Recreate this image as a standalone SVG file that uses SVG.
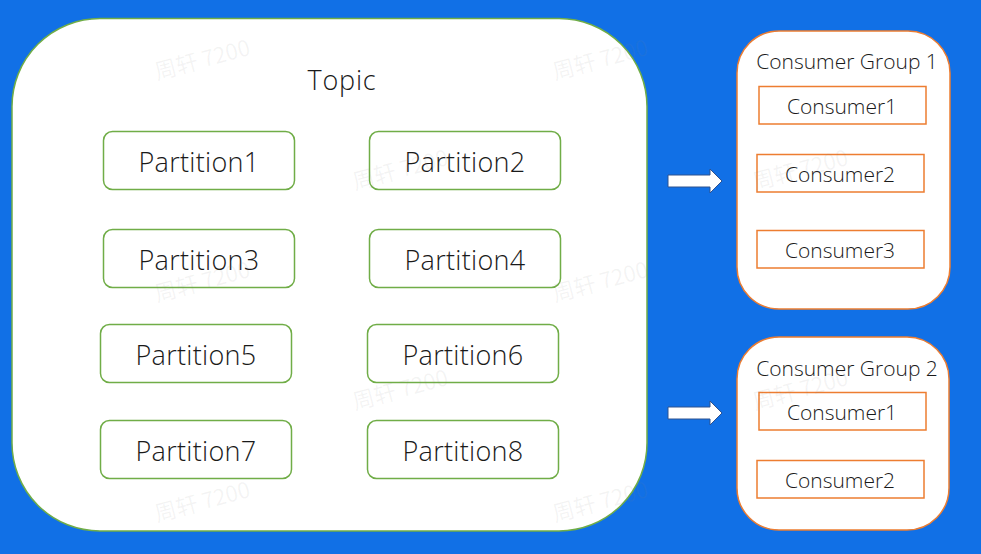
<svg xmlns="http://www.w3.org/2000/svg" width="981" height="554" viewBox="0 0 981 554">
<style>
.bg{fill:#1170E6}
.topic{fill:#fff;stroke:#70AD47;stroke-width:1.5}
.part{fill:#fff;stroke:#70AD47;stroke-width:1.5}
.grp{fill:#fff;stroke:#ED7D31;stroke-width:1.5}
.cons{fill:#fff;stroke:#ED7D31;stroke-width:1.5}
text{font-family:"Open Sans","Noto Sans CJK SC",sans-serif;font-weight:300;fill:#1a1a1a}
.pt{font-size:27px;text-anchor:middle;letter-spacing:0.3px}
.tt{font-size:27px;text-anchor:middle;letter-spacing:0.8px}
.gt{font-size:21px;text-anchor:middle}
.ct{font-size:21px;text-anchor:middle}
.wm{font-family:"Noto Sans CJK SC",sans-serif;font-size:22px;fill:#808080;fill-opacity:0.09;font-weight:400}
.arr{fill:#fff;stroke:#2F528F;stroke-width:1}
</style>
<rect class="bg" x="0" y="0" width="981" height="554"/>
<g id="topic">
<rect class="topic" x="12" y="18.5" width="635" height="512.5" rx="88"/>
<text class="tt" x="342" y="90">Topic</text>
</g>
<g id="partition1"><rect class="part" x="103.5" y="131.5" width="191" height="58" rx="9"/><text class="pt" x="199" y="172">Partition1</text></g>
<g id="partition2"><rect class="part" x="369.5" y="131.5" width="191" height="58" rx="9"/><text class="pt" x="465" y="172">Partition2</text></g>
<g id="partition3"><rect class="part" x="103.5" y="229.5" width="191" height="58" rx="9"/><text class="pt" x="199" y="270">Partition3</text></g>
<g id="partition4"><rect class="part" x="369.5" y="229.5" width="191" height="58" rx="9"/><text class="pt" x="465" y="270">Partition4</text></g>
<g id="partition5"><rect class="part" x="100.5" y="324.5" width="191" height="58" rx="9"/><text class="pt" x="196" y="365">Partition5</text></g>
<g id="partition6"><rect class="part" x="367.5" y="324.5" width="191" height="58" rx="9"/><text class="pt" x="463" y="365">Partition6</text></g>
<g id="partition7"><rect class="part" x="100.5" y="420.5" width="191" height="58" rx="9"/><text class="pt" x="196" y="461">Partition7</text></g>
<g id="partition8"><rect class="part" x="367.5" y="420.5" width="191" height="58" rx="9"/><text class="pt" x="463" y="461">Partition8</text></g>
<g id="group1">
<rect class="grp" x="737" y="31" width="213" height="278" rx="42"/>
<text class="gt" x="847" y="69">Consumer Group 1</text>
</g>
<g id="g1-consumer1"><rect class="cons" x="759" y="86.5" width="167" height="37.5"/><text class="ct" x="842" y="114">Consumer1</text></g>
<g id="g1-consumer2"><rect class="cons" x="757" y="154.5" width="167" height="37.5"/><text class="ct" x="840" y="182">Consumer2</text></g>
<g id="g1-consumer3"><rect class="cons" x="757" y="230.5" width="167" height="37.5"/><text class="ct" x="840" y="258">Consumer3</text></g>
<g id="group2">
<rect class="grp" x="737" y="337" width="212" height="193" rx="42"/>
<text class="gt" x="847" y="376">Consumer Group 2</text>
</g>
<g id="g2-consumer1"><rect class="cons" x="759" y="392.5" width="167" height="37.5"/><text class="ct" x="842" y="420">Consumer1</text></g>
<g id="g2-consumer2"><rect class="cons" x="757" y="460.5" width="167" height="37.5"/><text class="ct" x="840" y="488">Consumer2</text></g>
<g id="connectors">
<path class="arr" d="M668,175 H710 V169 L722,181 L710,193 V187 H668 Z"/>
<path class="arr" d="M668,407 H710 V401 L722,413 L710,425 V419 H668 Z"/>
</g>
<g id="watermarks">
<text class="wm" transform="translate(157,80) rotate(-15)">周轩 7200</text>
<text class="wm" transform="translate(555,80) rotate(-15)">周轩 7200</text>
<text class="wm" transform="translate(355,190) rotate(-15)">周轩 7200</text>
<text class="wm" transform="translate(755,190) rotate(-15)">周轩 7200</text>
<text class="wm" transform="translate(157,302) rotate(-15)">周轩 7200</text>
<text class="wm" transform="translate(555,302) rotate(-15)">周轩 7200</text>
<text class="wm" transform="translate(355,410) rotate(-15)">周轩 7200</text>
<text class="wm" transform="translate(755,410) rotate(-15)">周轩 7200</text>
<text class="wm" transform="translate(157,522) rotate(-15)">周轩 7200</text>
<text class="wm" transform="translate(555,522) rotate(-15)">周轩 7200</text>
</g>
</svg>
